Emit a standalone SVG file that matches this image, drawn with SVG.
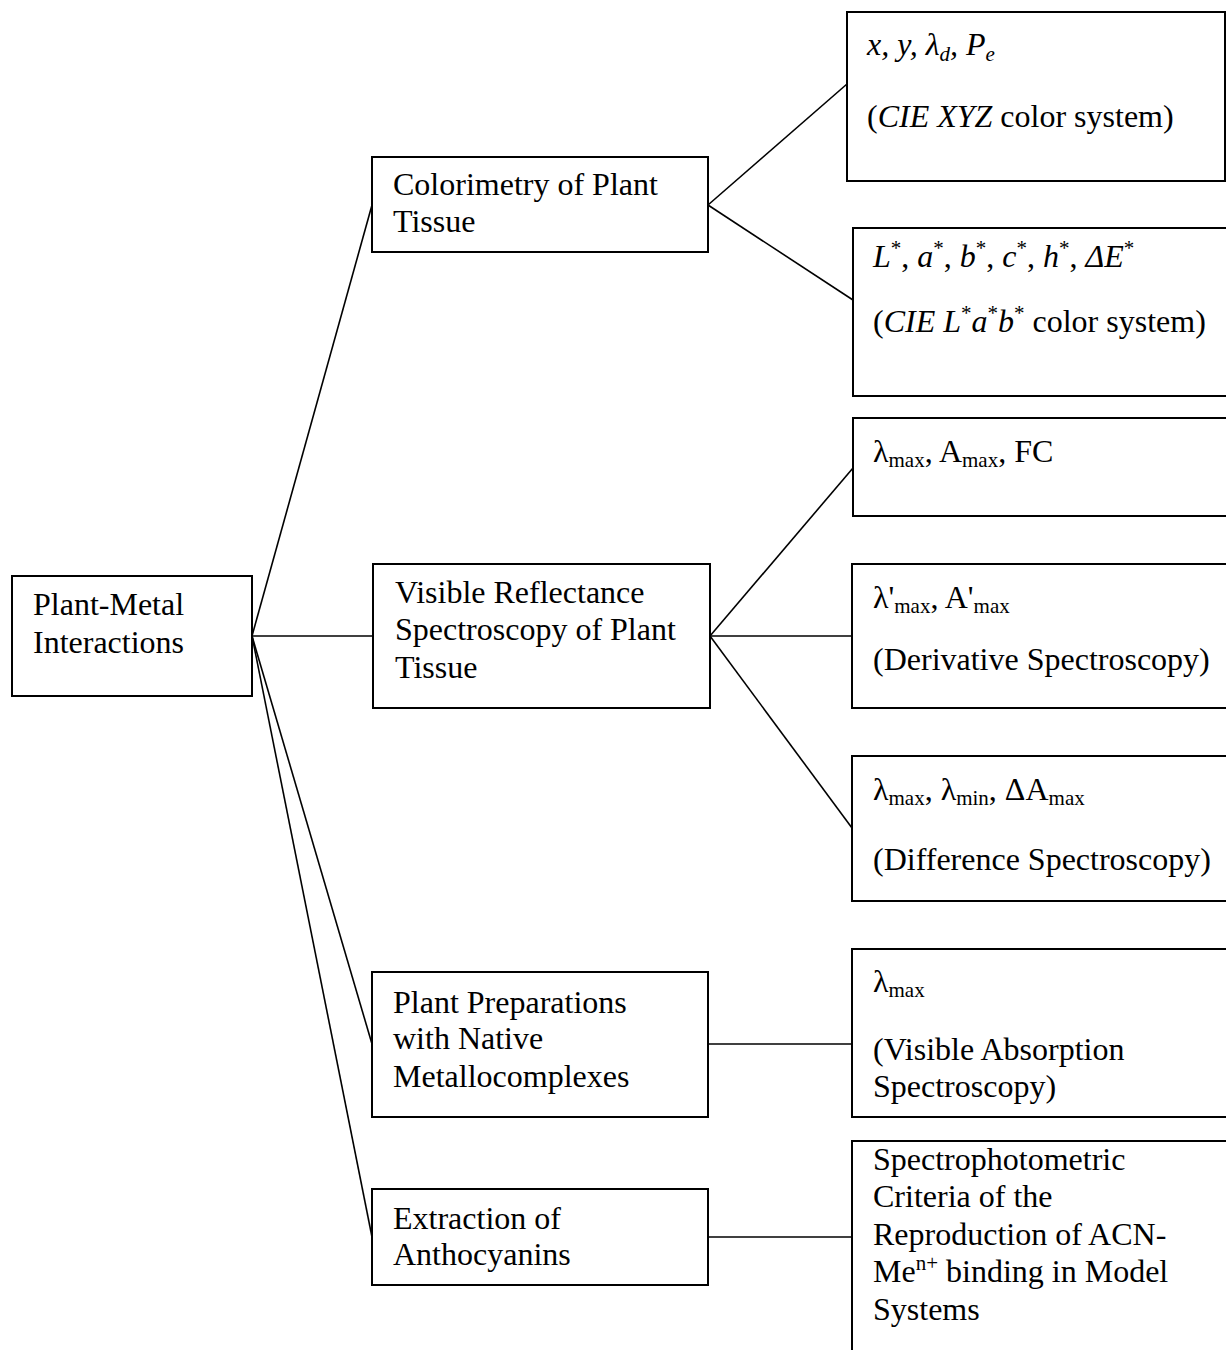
<svg xmlns="http://www.w3.org/2000/svg" width="1226" height="1350" viewBox="0 0 1226 1350">
<style>
.box{fill:#fff;stroke:#000;stroke-width:2}
.ln{stroke:#000;stroke-width:1.6;fill:none}
text{font-family:"Liberation Serif","Times New Roman",serif;font-size:32px;fill:#000}
.s{font-size:21px}
.i{font-style:italic}
</style>
<rect width="1226" height="1350" fill="#fff"/>
<g id="connectors">
<line class="ln" x1="252" y1="636" x2="372" y2="205"/>
<line class="ln" x1="252" y1="636" x2="373" y2="636"/>
<line class="ln" x1="252" y1="636" x2="372" y2="1044"/>
<line class="ln" x1="252" y1="636" x2="372" y2="1237"/>
<line class="ln" x1="708" y1="205" x2="847" y2="84"/>
<line class="ln" x1="708" y1="205" x2="853" y2="300"/>
<line class="ln" x1="710" y1="636" x2="853" y2="468"/>
<line class="ln" x1="710" y1="636" x2="852" y2="636"/>
<line class="ln" x1="710" y1="636" x2="852" y2="828"/>
<line class="ln" x1="708" y1="1044" x2="852" y2="1044"/>
<line class="ln" x1="708" y1="1237" x2="852" y2="1237"/>
</g>
<g id="root">
<rect class="box" x="12" y="576" width="240" height="120"/>
<text x="33" y="615">Plant-Metal</text>
<text x="33" y="653">Interactions</text>
</g>
<g id="colorimetry">
<rect class="box" x="372" y="157" width="336" height="95"/>
<text x="393" y="195">Colorimetry of Plant</text>
<text x="393" y="232">Tissue</text>
</g>
<g id="reflectance">
<rect class="box" x="373" y="564" width="337" height="144"/>
<text x="395" y="603">Visible Reflectance</text>
<text x="395" y="640">Spectroscopy of Plant</text>
<text x="395" y="678">Tissue</text>
</g>
<g id="preparations">
<rect class="box" x="372" y="972" width="336" height="145"/>
<text x="393" y="1013">Plant Preparations</text>
<text x="393" y="1049">with Native</text>
<text x="393" y="1087">Metallocomplexes</text>
</g>
<g id="extraction">
<rect class="box" x="372" y="1189" width="336" height="96"/>
<text x="393" y="1229">Extraction of</text>
<text x="393" y="1265">Anthocyanins</text>
</g>
<g id="xyz">
<rect class="box" x="847" y="12" width="378" height="169"/>
<text x="867" y="55" class="i">x, y, λ<tspan class="s" dy="6">d</tspan><tspan dy="-6">, P</tspan><tspan class="s" dy="6">e</tspan></text>
<text x="867" y="127">(<tspan class="i">CIE XYZ</tspan> color system)</text>
</g>
<g id="lab">
<rect class="box" x="853" y="228" width="380" height="168"/>
<text x="873" y="267"><tspan class="i">L</tspan><tspan class="s" dy="-12">*</tspan><tspan dy="12">, </tspan><tspan class="i">a</tspan><tspan class="s" dy="-12">*</tspan><tspan dy="12">, </tspan><tspan class="i">b</tspan><tspan class="s" dy="-12">*</tspan><tspan dy="12">, </tspan><tspan class="i">c</tspan><tspan class="s" dy="-12">*</tspan><tspan dy="12">, </tspan><tspan class="i">h</tspan><tspan class="s" dy="-12">*</tspan><tspan dy="12">, </tspan><tspan class="i">ΔE</tspan><tspan class="s" dy="-12">*</tspan></text>
<text x="873" y="332">(<tspan class="i">CIE L</tspan><tspan class="s" dy="-12">*</tspan><tspan class="i" dy="12">a</tspan><tspan class="s" dy="-12">*</tspan><tspan class="i" dy="12">b</tspan><tspan class="s" dy="-12">*</tspan><tspan dy="12"> color system)</tspan></text>
</g>
<g id="fc">
<rect class="box" x="853" y="418" width="380" height="98"/>
<text x="873" y="462">λ<tspan class="s" dy="5">max</tspan><tspan dy="-5">, A</tspan><tspan class="s" dy="5">max</tspan><tspan dy="-5">, FC</tspan></text>
</g>
<g id="derivative">
<rect class="box" x="852" y="564" width="381" height="144"/>
<text x="873" y="608">λ'<tspan class="s" dy="5">max</tspan><tspan dy="-5">, A'</tspan><tspan class="s" dy="5">max</tspan></text>
<text x="873" y="670">(Derivative Spectroscopy)</text>
</g>
<g id="difference">
<rect class="box" x="852" y="756" width="381" height="145"/>
<text x="873" y="800">λ<tspan class="s" dy="5">max</tspan><tspan dy="-5">, λ</tspan><tspan class="s" dy="5">min</tspan><tspan dy="-5">, ΔA</tspan><tspan class="s" dy="5">max</tspan></text>
<text x="873" y="870">(Difference Spectroscopy)</text>
</g>
<g id="absorption">
<rect class="box" x="852" y="949" width="381" height="168"/>
<text x="873" y="992">λ<tspan class="s" dy="5">max</tspan></text>
<text x="873" y="1060">(Visible Absorption</text>
<text x="873" y="1097">Spectroscopy)</text>
</g>
<g id="criteria">
<rect class="box" x="852" y="1141" width="381" height="230"/>
<text x="873" y="1170">Spectrophotometric</text>
<text x="873" y="1207">Criteria of the</text>
<text x="873" y="1245">Reproduction of ACN-</text>
<text x="873" y="1282">Me<tspan class="s" dy="-12">n+</tspan><tspan dy="12"> binding in Model</tspan></text>
<text x="873" y="1320">Systems</text>
</g>
</svg>
